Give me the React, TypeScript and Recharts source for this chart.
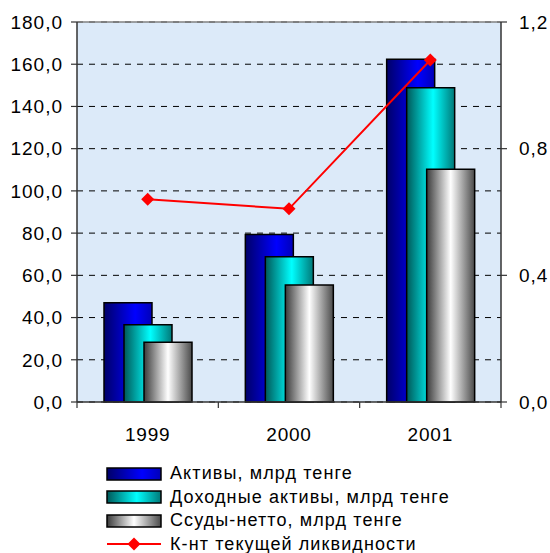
import React from 'react';
import { ComposedChart, Bar, Line, XAxis, YAxis, CartesianGrid, ReferenceLine, Legend } from 'recharts';

const years = ['1999', '2000', '2001'];
const assets = [47.0, 79.4, 162.3];
const earningAssets = [36.6, 68.8, 148.9];
const netLoans = [28.3, 55.4, 110.2];
const liquidity = [0.64, 0.61, 1.08];
const leftTicks = [0, 20, 40, 60, 80, 100, 120, 140, 160, 180];
const rightTicks = [0, 0.4, 0.8, 1.2];

const seriesNames = [
  'Активы, млрд тенге',
  'Доходные активы, млрд тенге',
  'Ссуды-нетто, млрд тенге',
  'К-нт текущей ликвидности',
];

const data = years.map((y, i) => ({
  year: y,
  assets: assets[i],
  earning: earningAssets[i],
  loans: netLoans[i],
  liq: liquidity[i],
}));

const FONT = '"Liberation Sans", Arial, sans-serif';
const fmt = (v: number) => v.toFixed(1).replace('.', ',');

const Diamond = (props: any) => {
  const { cx, cy } = props;
  if (cx == null || cy == null) return null;
  const r = 6.5;
  return <polygon points={`${cx},${cy - r} ${cx + r},${cy} ${cx},${cy + r} ${cx - r},${cy}`} fill="#FF0000" />;
};

const XTick = (props: any) => {
  const { x, y, payload, width, visibleTicksCount, index } = props;
  const band = width && visibleTicksCount ? width / visibleTicksCount : 0;
  const ay = y - 8;
  return (
    <g>
      {band > 0 && index === 0 && <line x1={x - band / 2} x2={x - band / 2} y1={ay} y2={ay + 6} stroke="#333" strokeWidth={1.2} />}
      {band > 0 && <line x1={x + band / 2} x2={x + band / 2} y1={ay} y2={ay + 6} stroke="#333" strokeWidth={1.2} />}
      <text x={x} y={y} dy={31} textAnchor="middle" fontSize={19} fontFamily={FONT} fill="#000" letterSpacing={0.8}>
        {payload.value}
      </text>
    </g>
  );
};

const gradIds = ['gBlue', 'gCyan', 'gGray'];

const Swatch = ({ id }: { id: string }) => (
  <svg width={56} height={14} style={{ display: 'block' }}>
    <rect x={1} y={1} width={54} height={12} fill={`url(#${id}L)`} stroke="#000" strokeWidth={1.5} />
  </svg>
);

const LegendContent = () => (
  <div style={{ height: 111, boxSizing: 'border-box', paddingTop: 20, paddingLeft: 106, fontFamily: FONT, fontSize: 18, letterSpacing: 1.1, textAlign: 'left' }}>
    {seriesNames.map((name, i) => (
      <div key={name} style={{ display: 'flex', alignItems: 'center', height: 23.5 }}>
        <div style={{ width: 64 }}>
          {i < 3 ? (
            <Swatch id={gradIds[i]} />
          ) : (
            <svg width={56} height={14} style={{ display: 'block' }}>
              <line x1={1} x2={55} y1={7} y2={7} stroke="#FF0000" strokeWidth={2} />
              <polygon points="28,0.5 34.5,7 28,13.5 21.5,7" fill="#FF0000" />
            </svg>
          )}
        </div>
        <span style={{ whiteSpace: 'nowrap', color: '#000' }}>{name}</span>
      </div>
    ))}
  </div>
);

const Grads = ({ suffix }: { suffix: string }) => (
  <>
    <linearGradient id={`gBlue${suffix}`} x1="0" y1="0" x2="1" y2="0">
      <stop offset="0%" stopColor="#000068" />
      <stop offset="65%" stopColor="#0000FF" />
      <stop offset="100%" stopColor="#0000B8" />
    </linearGradient>
    <linearGradient id={`gCyan${suffix}`} x1="0" y1="0" x2="1" y2="0">
      <stop offset="0%" stopColor="#005858" />
      <stop offset="55%" stopColor="#00FFFF" />
      <stop offset="100%" stopColor="#007878" />
    </linearGradient>
    <linearGradient id={`gGray${suffix}`} x1="0" y1="0" x2="1" y2="0">
      <stop offset="0%" stopColor="#3A3A3A" />
      <stop offset="50%" stopColor="#FFFFFF" />
      <stop offset="100%" stopColor="#4A4A4A" />
    </linearGradient>
  </>
);

export default function App() {
  return (
    <div style={{ position: 'absolute', left: 0, top: 0, width: 550, height: 553, background: '#fff' }}>
      <svg width={0} height={0} style={{ position: 'absolute' }}>
        <defs>
          <Grads suffix="L" />
        </defs>
      </svg>
      <ComposedChart
        width={550}
        height={553}
        data={data}
        margin={{ top: 22, right: 0, bottom: 0, left: 0 }}
        barSize={48}
        barGap={-28}
      >
        <defs>
          <Grads suffix="" />
        </defs>
        <CartesianGrid
          yAxisId="left"
          vertical={false}
          stroke="#000"
          strokeDasharray="6 6"
          fill="#DCEAF9"
          fillOpacity={1}
        />
        <XAxis
          dataKey="year"
          height={40}
          tickLine={false}
          axisLine={{ stroke: '#333', strokeWidth: 1.5 }}
          tick={<XTick />}
          interval={0}
        />
        <YAxis
          yAxisId="left"
          orientation="left"
          width={77}
          domain={[0, 180]}
          ticks={leftTicks}
          interval={0}
          tickFormatter={fmt}
          tickSize={6}
          tickMargin={8}
          tickLine={{ stroke: '#333', strokeWidth: 1.2 }}
          axisLine={{ stroke: '#333', strokeWidth: 1.5 }}
          tick={{ fill: '#000', fontSize: 19, fontFamily: FONT, letterSpacing: 1 }}
        />
        <YAxis
          yAxisId="right"
          orientation="right"
          width={49}
          domain={[0, 1.2]}
          ticks={rightTicks}
          interval={0}
          tickFormatter={fmt}
          tickSize={6}
          tickMargin={12}
          tickLine={{ stroke: '#333', strokeWidth: 1.2 }}
          axisLine={{ stroke: '#333', strokeWidth: 1.5 }}
          tick={{ fill: '#000', fontSize: 19, fontFamily: FONT, letterSpacing: 1 }}
        />
        <ReferenceLine yAxisId="left" y={180} stroke="#808080" strokeWidth={1.5} />
        <Bar yAxisId="left" dataKey="assets" name={seriesNames[0]} fill="url(#gBlue)" stroke="#000" strokeWidth={1.5} isAnimationActive={false} />
        <Bar yAxisId="left" dataKey="earning" name={seriesNames[1]} fill="url(#gCyan)" stroke="#000" strokeWidth={1.5} isAnimationActive={false} />
        <Bar yAxisId="left" dataKey="loans" name={seriesNames[2]} fill="url(#gGray)" stroke="#000" strokeWidth={1.5} isAnimationActive={false} />
        <Line
          yAxisId="right"
          dataKey="liq"
          name={seriesNames[3]}
          stroke="#FF0000"
          strokeWidth={2}
          dot={<Diamond />}
          activeDot={false}
          isAnimationActive={false}
        />
        <Legend
          verticalAlign="bottom"
          align="left"
          layout="horizontal"
          content={<LegendContent />}
          wrapperStyle={{ left: 0, width: 550 }}
        />
      </ComposedChart>
    </div>
  );
}
